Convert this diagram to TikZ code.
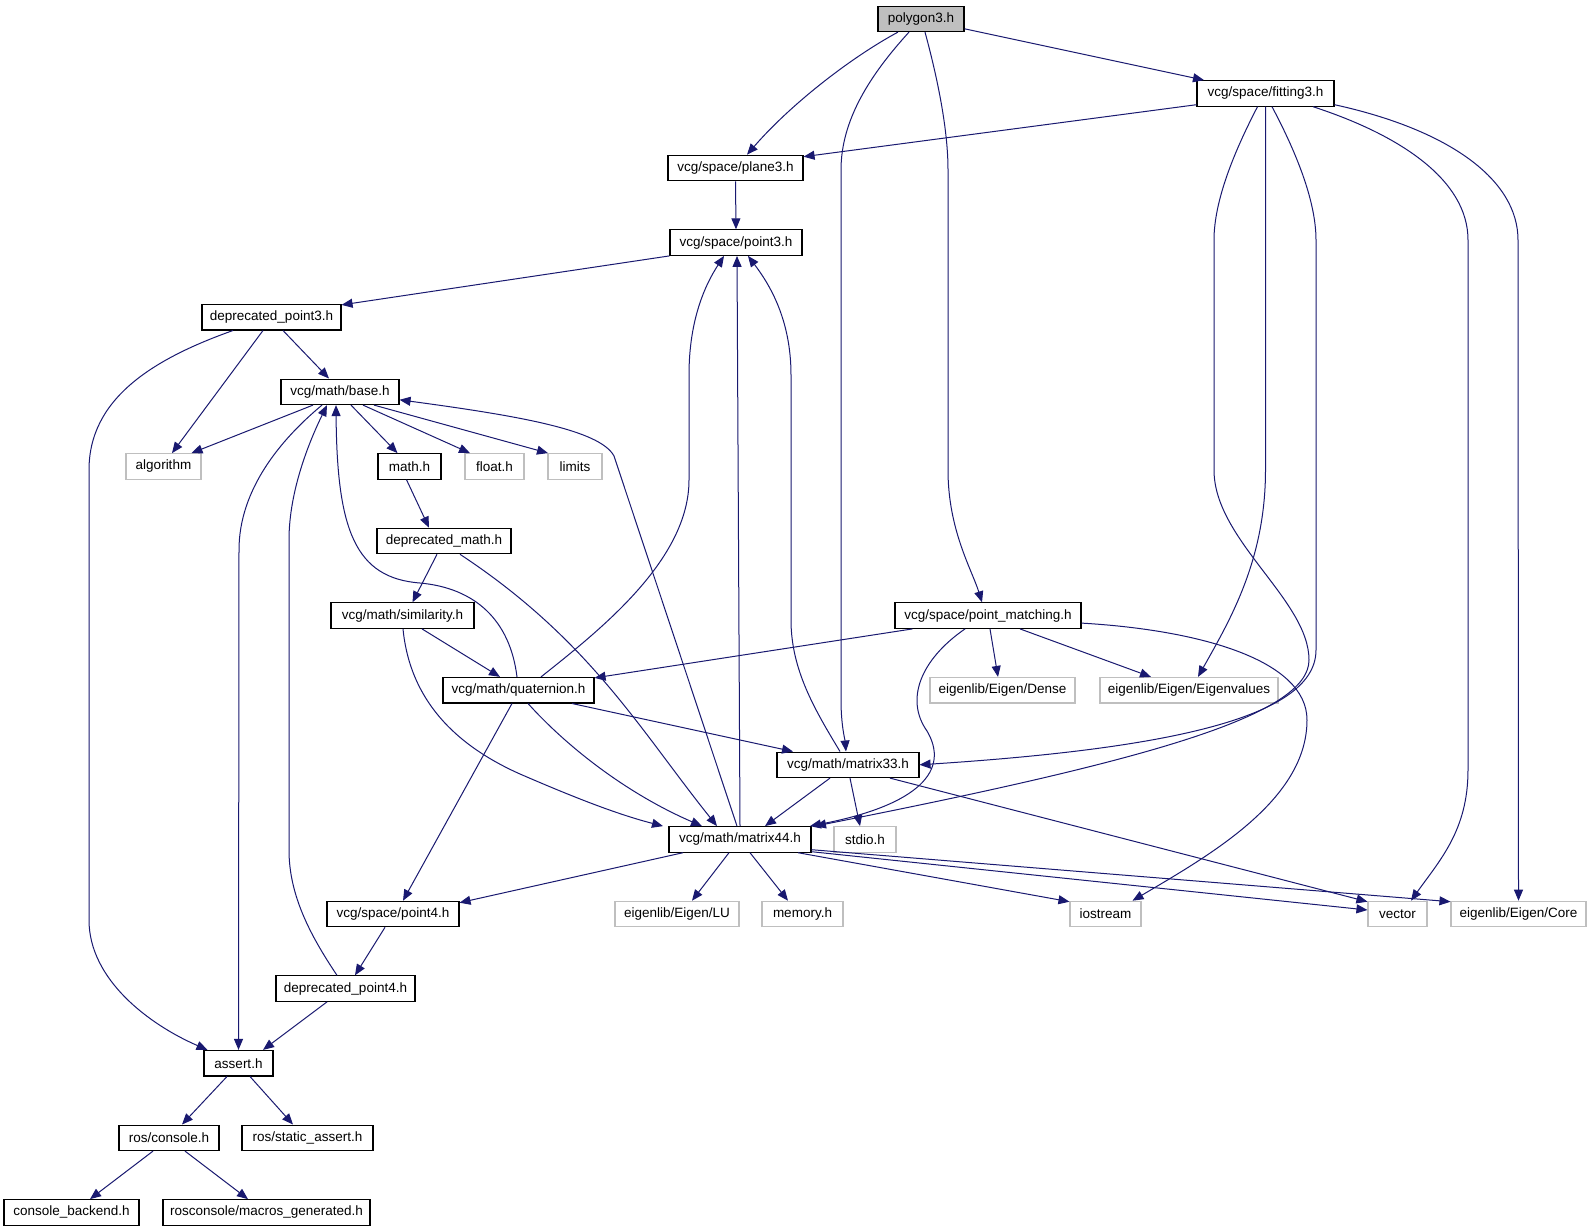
\documentclass[tikz,border=0pt]{standalone}
\usepackage{fontspec}
\setmainfont{Liberation Sans}
\usetikzlibrary{arrows.meta}
\definecolor{edgec}{HTML}{191970}
\definecolor{extc}{HTML}{BFBFBF}
\definecolor{rootc}{HTML}{BFBFBF}
\tikzset{
  nd/.style={draw=black, line width=1.1pt, inner sep=0pt, minimum height=25.5pt,
    font=\fontsize{13.5}{15}\selectfont, anchor=center},
  ext/.style={nd, draw=extc},
  e/.style={draw=edgec, line width=1pt, -{Triangle[length=11pt,width=9pt]}, fill=none},
}
\begin{document}
\begin{tikzpicture}[x=1pt,y=-1pt]
\fill[white] (0,0) rectangle (1591,1232);
\useasboundingbox (0,0) rectangle (1591,1232);
% nodes
\node[nd, minimum width=86pt, fill=rootc] (poly) at (921,18.8) {polygon3.h};
\node[nd, minimum width=137pt] (fit) at (1265.5,93.4) {vcg/space/fitting3.h};
\node[nd, minimum width=135pt] (plane) at (735.5,168.0) {vcg/space/plane3.h};
\node[nd, minimum width=132pt] (p3) at (736,242.6) {vcg/space/point3.h};
\node[nd, minimum width=139pt] (dp3) at (271.5,317.2) {deprecated\_point3.h};
\node[nd, minimum width=118pt] (base) at (340,391.8) {vcg/math/base.h};
\node[ext, minimum width=75pt] (alg) at (163.5,466.4) {algorithm};
\node[nd, minimum width=63pt] (math) at (409.5,466.4) {math.h};
\node[ext, minimum width=59pt] (float) at (494.5,466.4) {float.h};
\node[ext, minimum width=54pt] (limits) at (575,466.4) {limits};
\node[nd, minimum width=134pt] (dmath) at (444,541.0) {deprecated\_math.h};
\node[nd, minimum width=143pt] (sim) at (402.5,615.6) {vcg/math/similarity.h};
\node[nd, minimum width=186pt] (pm) at (988,615.6) {vcg/space/point\_matching.h};
\node[nd, minimum width=151pt] (quat) at (518.5,690.2) {vcg/math/quaternion.h};
\node[ext, minimum width=145pt] (dense) at (1002.5,690.2) {eigenlib/Eigen/Dense};
\node[ext, minimum width=178pt] (eval) at (1189,690.2) {eigenlib/Eigen/Eigenvalues};
\node[nd, minimum width=142pt] (m33) at (848,764.8) {vcg/math/matrix33.h};
\node[nd, minimum width=142pt] (m44) at (740,839.4) {vcg/math/matrix44.h};
\node[ext, minimum width=62pt] (stdio) at (865,839.4) {stdio.h};
\node[nd, minimum width=132pt] (p4) at (393,914.0) {vcg/space/point4.h};
\node[ext, minimum width=124pt] (lu) at (677,914.0) {eigenlib/Eigen/LU};
\node[ext, minimum width=81pt] (mem) at (802.5,914.0) {memory.h};
\node[ext, minimum width=71pt] (ios) at (1105.5,914.0) {iostream};
\node[ext, minimum width=59pt] (vec) at (1397.5,914.0) {vector};
\node[ext, minimum width=135pt] (core) at (1518.5,914.0) {eigenlib/Eigen/Core};
\node[nd, minimum width=139pt] (dp4) at (345.5,988.6) {deprecated\_point4.h};
\node[nd, minimum width=69pt] (assert) at (238.5,1063.2) {assert.h};
\node[nd, minimum width=100pt] (rc) at (169,1137.8) {ros/console.h};
\node[nd, minimum width=131pt] (rsa) at (307.5,1137.8) {ros/static\_assert.h};
\node[nd, minimum width=135pt] (cb) at (71.5,1212.4) {console\_backend.h};
\node[nd, minimum width=207pt] (mg) at (266.5,1212.4) {rosconsole/macros\_generated.h};
% edges from polygon3.h
\draw[e] ([xshift=-23pt]poly.south) .. controls (850,58) and (790,105) .. ([xshift=11.5pt]plane.north);
\draw[e] ([xshift=-12pt]poly.south) .. controls (870,75) and (841,120) .. (841,170) -- (841,700) .. controls (841,725) and (845,740) .. ([xshift=-2pt]m33.north);
\draw[e] ([xshift=4pt]poly.south) .. controls (938,80) and (948,130) .. (948,170) -- (948,470) .. controls (948,530) and (972,570) .. ([xshift=-6pt]pm.north);
\draw[e] ([yshift=-10pt]poly.east) -- ([xshift=-61.5pt]fit.north);
% edges from fitting3.h
\draw[e] ([yshift=2pt]fit.south west) -- ([yshift=-2pt]plane.north east);
\draw[e] (fit.south) -- (1265.5,470) .. controls (1265.5,560) and (1230,620) .. ([xshift=9pt]eval.north);
\draw[e] ([xshift=-8pt]fit.south) .. controls (1235,150) and (1214,200) .. (1214,240) -- (1214,470) .. controls (1214,540) and (1309,600) .. (1309,660) .. controls (1309,715) and (1150,760) .. ([xshift=75pt]m44.north);
\draw[e] ([xshift=6.5pt]fit.south) .. controls (1295,150) and (1316,200) .. (1316,240) -- (1316,650) .. controls (1316,715) and (1180,748) .. (m33.east);
\draw[e] ([xshift=47.5pt]fit.south) .. controls (1400,135) and (1468,180) .. (1468,240) -- (1468,770) .. controls (1468,830) and (1440,860) .. ([xshift=13.5pt]vec.north);
\draw[e] ([yshift=2pt]fit.south east) .. controls (1450,130) and (1518,180) .. (1518,240) -- (core.north);
% plane3, point3, deprecated_point3
\draw[e] (plane.south) -- (p3.north);
\draw[e] (p3.south west) -- ([yshift=-1pt]dp3.north east);
\draw[e] ([xshift=11.5pt]dp3.south) -- ([xshift=-11pt]base.north);
\draw[e] ([xshift=-8.5pt]dp3.south) -- ([xshift=8.5pt]alg.north);
\draw[e] ([xshift=-38.5pt]dp3.south) .. controls (150,360) and (89,400) .. (89,470) -- (89,920) .. controls (89,980) and (150,1025) .. ([xshift=-31pt]assert.north);
% base.h
\draw[e] ([xshift=-27pt]base.south) -- ([xshift=28pt]alg.north);
\draw[e] ([xshift=11pt]base.south) -- ([xshift=-12pt]math.north);
\draw[e] ([xshift=23pt]base.south) -- ([xshift=-24.5pt]float.north);
\draw[e] ([xshift=34pt]base.south) -- ([xshift=-27pt]limits.north);
\draw[e] ([xshift=-18pt]base.south) .. controls (280,440) and (239,490) .. (239,550) -- (assert.north);
% into base.h
\draw[e] ([xshift=-8.5pt]dp4.north) .. controls (310,935) and (289,895) .. (289,850) -- (289,540) .. controls (289,490) and (310,440) .. ([xshift=-13pt]base.south);
\draw[e] ([xshift=-1.5pt]quat.north) .. controls (510,620) and (475,588) .. (420,583) .. controls (355,578) and (337,530) .. ([xshift=-4pt]base.south);
\draw[e] ([xshift=-3pt]m44.north) -- (614,456) .. controls (600,430) and (520,416) .. ([yshift=-8pt]base.east);
% into point3.h
\draw[e] (m44.north) -- ([xshift=1pt]p3.south);
\draw[e] ([xshift=22.5pt]quat.north) .. controls (600,630) and (689,560) .. (689,480) -- (689,375) .. controls (689,320) and (705,285) .. ([xshift=-12pt]p3.south);
\draw[e] ([xshift=-8pt]m33.north) .. controls (815,710) and (791,670) .. (791,620) -- (791,375) .. controls (791,320) and (770,285) .. ([xshift=12pt]p3.south);
% math chain
\draw[e] (math.south) ++(-3pt,0) -- ([xshift=-15pt]dmath.north);
\draw[e] ([xshift=-7pt]dmath.south) -- ([xshift=10pt]sim.north);
\draw[e] ([xshift=16pt]dmath.south) .. controls (590,640) and (640,730) .. ([xshift=-23pt]m44.north);
\draw[e] ([xshift=19.5pt]sim.south) -- ([xshift=-18.5pt]quat.north);
\draw[e] ([xshift=0.5pt]sim.south) .. controls (410,700) and (455,745) .. (520,774) .. controls (580,800) and (620,815) .. ([xshift=-77pt]m44.north);
% quaternion.h
\draw[e] ([xshift=9.5pt]quat.south) .. controls (570,750) and (630,795) .. ([xshift=-38pt]m44.north);
\draw[e] ([xshift=53.5pt]quat.south) -- ([xshift=-55pt]m33.north);
\draw[e] ([xshift=-6.5pt]quat.south) -- ([xshift=10pt]p4.north);
% point_matching.h
\draw[e] ([xshift=18pt]pm.south west) -- ([yshift=-1pt]quat.north east);
\draw[e] ([xshift=-23pt]pm.south) .. controls (920,660) and (905,700) .. (927,731) .. controls (950,770) and (920,805) .. ([xshift=70pt]m44.north);
\draw[e] ([xshift=2pt]pm.south) -- ([xshift=-4.5pt]dense.north);
\draw[e] ([xshift=32pt]pm.south) -- ([xshift=-38pt]eval.north);
\draw[e] ([yshift=-7.5pt]pm.east) .. controls (1200,630) and (1307,660) .. (1307,720) .. controls (1307,800) and (1210,855) .. ([xshift=27pt]ios.north);
% matrix33.h
\draw[e] ([xshift=-18pt]m33.south) -- ([xshift=25pt]m44.north);
\draw[e] ([xshift=2pt]m33.south) -- ([xshift=-5pt]stdio.north);
\draw[e] ([xshift=42pt]m33.south) -- ([yshift=-1pt]vec.north west);
% matrix44.h
\draw[e] ([xshift=-57pt]m44.south) -- ([yshift=-2pt]p4.north east);
\draw[e] ([xshift=-11pt]m44.south) -- ([xshift=15pt]lu.north);
\draw[e] ([xshift=10pt]m44.south) -- ([xshift=-14.5pt]mem.north);
\draw[e] ([xshift=58pt]m44.south) -- ([yshift=-1pt]ios.north west);
\draw[e] ([yshift=1pt]m44.south east) -- ([yshift=4pt]vec.west);
\draw[e] ([yshift=3pt]m44.south east) -- ([yshift=-1pt]core.north west);
% lower part
\draw[e] ([xshift=-8pt]p4.south) -- ([xshift=9.5pt]dp4.north);
\draw[e] ([xshift=-18.5pt]dp4.south) -- ([xshift=24.5pt]assert.north);
\draw[e] ([xshift=-11.5pt]assert.south) -- ([xshift=13pt]rc.north);
\draw[e] ([xshift=11.5pt]assert.south) -- ([xshift=-14.5pt]rsa.north);
\draw[e] ([xshift=-16pt]rc.south) -- ([xshift=18.5pt]cb.north);
\draw[e] ([xshift=16pt]rc.south) -- ([xshift=-18.5pt]mg.north);
\end{tikzpicture}
\end{document}
